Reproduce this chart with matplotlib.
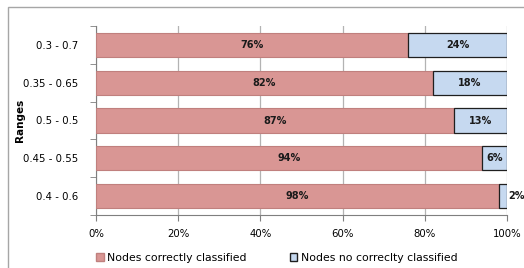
import numpy as np
import matplotlib.pyplot as plt
from matplotlib.patches import Rectangle, Patch

# data
ranges = ["0.3 - 0.7", "0.35 - 0.65", "0.5 - 0.5", "0.45 - 0.55", "0.4 - 0.6"]
correct = [76, 82, 87, 94, 98]
wrong = [24, 18, 13, 6, 2]

PINK = "#D99694"
PINK_EDGE = "#C0807E"
BLUE = "#C6D9F0"
BLUE_EDGE = "#1F1F1F"

plt.rcParams['font.family'] = ['DejaVu Sans']

fig = plt.figure(figsize=(5.24, 2.68), dpi=100)
fig.patches.append(Rectangle((8 / 524, -0.05), 1.0, 1 - 7 / 268 + 0.05,
                             transform=fig.transFigure, fill=False,
                             edgecolor="#A6A6A6", lw=1.0))

ax = fig.add_axes([96 / 524, 1 - 215 / 268, 411 / 524, 189 / 268])

y = np.arange(len(ranges))[::-1]
h = 0.64
ax.barh(y, correct, height=h, color=PINK, edgecolor=PINK_EDGE, lw=0.8, zorder=3)
ax.barh(y, wrong, left=correct, height=h, color=BLUE, edgecolor=BLUE_EDGE,
        lw=0.9, zorder=3)

for yi, c, w in zip(y, correct, wrong):
    ax.text(c / 2, yi, f"{c}%", ha='center', va='center', fontsize=7,
            fontweight='bold', color='#1a1a1a', zorder=4)
    if w >= 5:
        ax.text(c + w / 2, yi, f"{w}%", ha='center', va='center', fontsize=7,
                fontweight='bold', color='#1a1a1a', zorder=4)
    else:
        ax.text(100.4, yi, f"{w}%", ha='left', va='center', fontsize=7,
                fontweight='bold', color='#1a1a1a', zorder=4)

ax.set_xlim(0, 100)
ax.set_ylim(-0.5, len(ranges) - 0.5)
ax.set_xticks(np.arange(0, 101, 20))
ax.set_xticklabels([f"{v}%" for v in range(0, 101, 20)])
ax.set_yticks(y)
ax.set_yticklabels(ranges)
ax.set_yticks(np.arange(-0.5, len(ranges)), minor=True)
ax.tick_params(axis='y', which='major', length=0, labelsize=7.3, pad=13)
ax.tick_params(axis='y', which='minor', length=4, color='#7f7f7f')
ax.tick_params(axis='x', length=4, color='#7f7f7f', labelsize=7.3, pad=6)
ax.grid(axis='x', color='#b3b3b3', lw=0.9, zorder=0)

for s in ['top', 'right']:
    ax.spines[s].set_visible(False)
for s in ['left', 'bottom']:
    ax.spines[s].set_color('#7f7f7f')

ax.set_ylabel("Ranges", fontsize=7.5, fontweight='bold')
ax.yaxis.set_label_coords(-0.173, 0.5)

handles = [Patch(facecolor=PINK, edgecolor=PINK_EDGE, label="Nodes correctly classified"),
           Patch(facecolor=BLUE, edgecolor=BLUE_EDGE, label="Nodes no correclty classified")]
fig.legend(handles=handles, loc='center', bbox_to_anchor=(0.528, 1 - 258 / 268),
           ncol=2, frameon=False, fontsize=7.8, handlelength=0.7, handleheight=0.7,
           handletextpad=0.3, columnspacing=4.0, borderpad=0)

fig.savefig("out.png", dpi=100)
